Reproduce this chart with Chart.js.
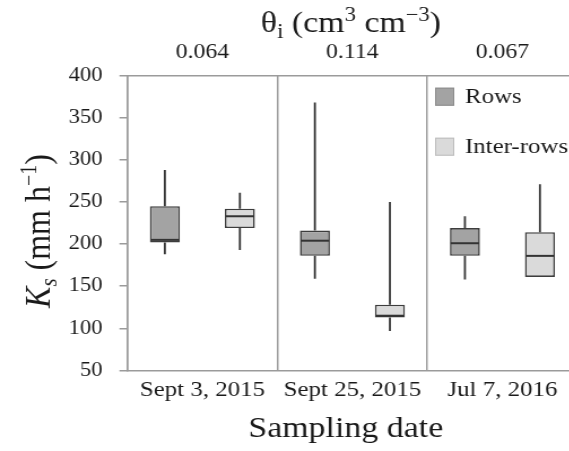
<!DOCTYPE html>
<html>
<head>
<meta charset="utf-8">
<script src="https://cdn.jsdelivr.net/npm/chart.js@4.4.1/dist/chart.umd.min.js"></script>
<style>
  html, body { margin: 0; padding: 0; background: #fff; overflow: hidden; width: 569px; height: 451px; }
  /* the figure is drawn slightly condensed and widened back horizontally */
  #wrap { width: 511px; height: 451px; transform: scaleX(1.13); transform-origin: 0 0; }
  canvas { display: block; }
</style>
</head>
<body>
<div id="wrap"><canvas id="c" width="511" height="451" style="width:511px;height:451px"></canvas></div>
<script>
// Sampling dates and initial water content for each date
const categories = ['Sept 3, 2015', 'Sept 25, 2015', 'Jul 7, 2016'];
const thetaLabels = ['0.064', '0.114', '0.067'];
const yTicks = [50, 100, 150, 200, 250, 300, 350, 400];

// Ks box-plot statistics (mm h-1), rows
const rowsMin    = [188, 159, 158];
const rowsQ1     = [202, 186, 186];
const rowsMedian = [205, 204, 201];
const rowsQ3     = [245, 216, 219];
const rowsMax    = [288, 368, 233];

// Ks box-plot statistics (mm h-1), inter-rows
const interMin    = [193,  97, 161];
const interQ1     = [219, 113, 161];
const interMedian = [233, 115, 186];
const interQ3     = [242, 128, 214];
const interMax    = [261, 250, 271];

const serif = "'Liberation Serif', 'Times New Roman', serif";
const ink = '#1a1a1a';
const frame = '#9b9b9b';

const boxes = (lo, hi) => lo.map((v, i) => [v, hi[i]]);

// whiskers and median lines on top of the floating-bar boxes
const boxWhiskers = {
  id: 'boxWhiskers',
  afterDatasetsDraw(chart) {
    const { ctx, scales: { y } } = chart;
    chart.data.datasets.forEach((ds, di) => {
      const meta = chart.getDatasetMeta(di);
      meta.data.forEach((bar, i) => {
        const x = bar.x, hw = bar.width / 2;
        const pMin = y.getPixelForValue(ds.stats.min[i]);
        const pMax = y.getPixelForValue(ds.stats.max[i]);
        const pMed = y.getPixelForValue(ds.stats.median[i]);
        const pQ1 = y.getPixelForValue(ds.data[i][0]);
        const pQ3 = y.getPixelForValue(ds.data[i][1]);
        ctx.save();
        ctx.strokeStyle = '#333';
        ctx.lineWidth = 1.8;
        ctx.beginPath();
        ctx.moveTo(x, pQ3); ctx.lineTo(x, pMax);
        ctx.moveTo(x, pQ1); ctx.lineTo(x, pMin);
        ctx.stroke();
        ctx.lineWidth = 2;
        ctx.beginPath();
        ctx.moveTo(x - hw + 0.75, pMed); ctx.lineTo(x + hw - 0.75, pMed);
        ctx.stroke();
        ctx.restore();
      });
    });
  }
};

// text runs with sub/superscripts
function drawRuns(ctx, runs, cx, baseline) {
  let total = 0;
  runs.forEach(r => { ctx.font = r.f; total += ctx.measureText(r.t).width; });
  let x = cx - total / 2;
  runs.forEach(r => {
    ctx.font = r.f;
    ctx.fillText(r.t, x, baseline + (r.dy || 0));
    x += ctx.measureText(r.t).width;
  });
}

const titlesAndLegend = {
  id: 'titlesAndLegend',
  afterDraw(chart) {
    const ctx = chart.ctx;
    ctx.save();
    ctx.fillStyle = ink;
    ctx.textAlign = 'left';
    ctx.textBaseline = 'alphabetic';

    // top title
    drawRuns(ctx, [
      { t: 'θ', f: `30px ${serif}` },
      { t: 'i', f: `20px ${serif}`, dy: 6 },
      { t: ' (cm', f: `30px ${serif}` },
      { t: '3', f: `20px ${serif}`, dy: -11 },
      { t: ' cm', f: `30px ${serif}` },
      { t: '\u22123', f: `20px ${serif}`, dy: -11 },
      { t: ')', f: `30px ${serif}` }
    ], 310.6, 32);

    // bottom title
    drawRuns(ctx, [{ t: 'Sampling date', f: `30px ${serif}` }], 306, 437);

    // y title
    ctx.save();
    ctx.translate(44, 231);
    ctx.rotate(-Math.PI / 2);
    drawRuns(ctx, [
      { t: 'K', f: `italic 32px ${serif}` },
      { t: 's', f: `italic 21px ${serif}`, dy: 6 },
      { t: ' (mm h', f: `32px ${serif}` },
      { t: '\u22121', f: `20px ${serif}`, dy: -12 },
      { t: ')', f: `32px ${serif}` }
    ], 0, 0);
    ctx.restore();

    // legend
    ctx.textBaseline = 'middle';
    ctx.font = `22px ${serif}`;
    const rowsY = [87.7, 137.7];
    chart.data.datasets.forEach((ds, i) => {
      ctx.fillStyle = ds.backgroundColor;
      ctx.fillRect(385, rowsY[i], 17, 18);
      ctx.strokeStyle = ds.legendEdge;
      ctx.lineWidth = 1;
      ctx.strokeRect(385.5, rowsY[i] + 0.5, 16, 17);
      ctx.fillStyle = ink;
      ctx.fillText(ds.label, 411.5, rowsY[i] + 9.5);
    });
    ctx.restore();
  }
};

new Chart(document.getElementById('c'), {
  type: 'bar',
  data: {
    labels: categories,
    datasets: [
      {
        label: 'Rows',
        data: boxes(rowsQ1, rowsQ3),
        stats: { min: rowsMin, median: rowsMedian, max: rowsMax },
        backgroundColor: '#a3a3a3',
        legendEdge: '#8c8c8c',
        borderColor: '#3d3d3d',
        borderWidth: 1.6,
        borderSkipped: false
      },
      {
        label: 'Inter-rows',
        data: boxes(interQ1, interQ3),
        stats: { min: interMin, median: interMedian, max: interMax },
        backgroundColor: '#dadada',
        legendEdge: '#bdbdbd',
        borderColor: '#3d3d3d',
        borderWidth: 1.6,
        borderSkipped: false
      }
    ]
  },
  options: {
    responsive: false,
    animation: false,
    devicePixelRatio: 1,
    layout: { padding: 0 },
    categoryPercentage: 1,
    barPercentage: 0.4,
    plugins: { legend: { display: false }, tooltip: { enabled: false } },
    scales: {
      x: {
        position: 'bottom',
        grid: { offset: true, color: frame, lineWidth: 1.5, drawTicks: false },
        border: { color: frame, width: 1.5 },
        ticks: { font: { family: serif, size: 22 }, color: ink, padding: 7 },
        afterFit(s) { s.height = 80.5; }
      },
      x2: {
        type: 'category',
        position: 'top',
        labels: thetaLabels,
        offset: true,
        grid: { display: false, drawTicks: false },
        border: { color: frame, width: 1.5 },
        ticks: { font: { family: serif, size: 21 }, color: ink, padding: 10 },
        afterFit(s) { s.height = 75.5; }
      },
      y: {
        min: 50,
        max: 400,
        afterBuildTicks(s) { s.ticks = yTicks.map(v => ({ value: v })); },
        ticks: { font: { family: serif, size: 20 }, color: ink, padding: 15 },
        grid: { drawOnChartArea: false, color: frame, lineWidth: 1.5, tickLength: 7 },
        border: { color: frame, width: 1.5 },
        afterFit(s) { s.width = 112.7; }
      }
    }
  },
  plugins: [boxWhiskers, titlesAndLegend]
});
</script>
</body>
</html>
